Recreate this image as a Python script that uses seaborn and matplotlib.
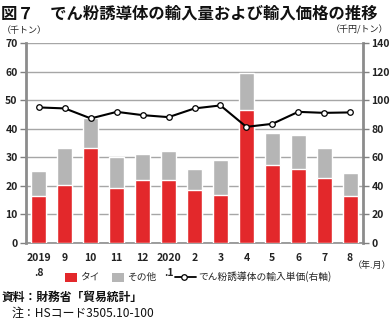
import numpy as np
import pandas as pd
import matplotlib
matplotlib.use("Agg")
import matplotlib.pyplot as plt
import seaborn as sns
from matplotlib.patches import Rectangle
from matplotlib.lines import Line2D

# Monthly imports of starch derivatives (thousand tonnes) and unit price (thousand yen / tonne)
months = ["2019.8", "2019.9", "2019.10", "2019.11", "2019.12", "2020.1", "2020.2",
          "2020.3", "2020.4", "2020.5", "2020.6", "2020.7", "2020.8"]
tick_labels = ["2019\n.8", "9", "10", "11", "12", "2020\n.1", "2", "3", "4", "5", "6", "7", "8"]
thai = [16.4, 20.3, 33.2, 19.4, 22.0, 22.0, 18.5, 16.8, 46.7, 27.4, 26.0, 22.8, 16.4]
total = [25.2, 33.1, 43.8, 30.0, 31.2, 32.2, 25.9, 29.0, 59.5, 38.6, 37.9, 33.3, 24.5]
unit_price = [94.9, 94.2, 87.2, 91.8, 89.5, 88.1, 94.2, 96.3, 81.3, 83.4, 91.8, 91.1, 91.4]

RED = "#e3282b"
GRAY = "#b5b5b5"
GRID = "#a6a6a6"
JP = ["Noto Sans CJK JP", "DejaVu Sans"]

sns.set_theme(style="white")
plt.rcParams["font.family"] = JP

df = pd.DataFrame({"month": months, "thai": thai, "total": total, "price": unit_price})

fig = plt.figure(figsize=(3.91, 3.22), dpi=100)
ax = fig.add_axes([26 / 391, 1 - 243 / 322, (363 - 26) / 391, 200 / 322])

sns.barplot(data=df, x="month", y="total", color=GRAY, width=0.58, ax=ax,
            saturation=1, zorder=2)
sns.barplot(data=df, x="month", y="thai", color=RED, width=0.58, ax=ax,
            saturation=1, zorder=3)

ax.set_ylim(0, 70)
ax.set_xlim(-0.5, len(months) - 0.5)
ax.set_yticks(range(0, 71, 10))
ax.yaxis.grid(True, color=GRID, linewidth=1.0, zorder=0)
ax.set_axisbelow(True)
ax.set_xlabel("")
ax.set_ylabel("")
ax.tick_params(axis="y", length=4, width=1, color="#808080", labelsize=7.5, pad=2)
for lab in ax.get_yticklabels():
    lab.set_fontweight("bold")
    lab.set_color("#222222")
ax.set_xticks(range(len(months)))
ax.set_xticklabels(tick_labels, fontsize=7.5, fontweight="bold", color="#222222",
                   linespacing=1.7, va="top")
ax.tick_params(axis="x", which="major", length=0, pad=7)
ax.set_xticks(np.arange(-0.5, len(months), 1.0), minor=True)
ax.tick_params(axis="x", which="minor", length=4, width=1, color="#808080", direction="out")

for side in ["left", "right", "bottom"]:
    ax.spines[side].set_visible(True)
    ax.spines[side].set_color("#8c8c8c")
ax.spines["left"].set_linewidth(2)
ax.spines["right"].set_linewidth(2)
ax.spines["bottom"].set_linewidth(1.2)
ax.spines["top"].set_visible(False)

ax2 = ax.twinx()
sns.lineplot(x=np.arange(len(months)), y=df["price"], ax=ax2, color="black",
             linewidth=1.5, marker="o", markersize=4, markerfacecolor="white",
             markeredgecolor="black", markeredgewidth=0.9, zorder=5)
ax2.set_ylim(0, 140)
ax2.set_yticks(range(0, 141, 20))
ax2.set_ylabel("")
ax2.tick_params(axis="y", length=4, width=1, color="#808080", labelsize=7.5, pad=2)
for lab in ax2.get_yticklabels():
    lab.set_fontweight("bold")
    lab.set_color("#222222")
for s in ax2.spines.values():
    s.set_visible(False)

# Title and annotations
fig.text(0.003, 0.985, "図７　でん粉誘導体の輸入量および輸入価格の推移", fontsize=11.8,
         fontweight="bold", ha="left", va="top", color="#111111")
fig.text(2 / 391, 1 - 30 / 322, "（千トン）", fontsize=6.5, ha="left", va="center", color="#222222")
fig.text(388 / 391, 1 - 30 / 322, "（千円/トン）", fontsize=6.5, ha="right", va="center", color="#222222")
fig.text(391 / 391, 1 - 265 / 322, "（年.月）", fontsize=6.5, ha="right", va="center", color="#222222")

# Legend row
ly = 1 - 277 / 322
lx = fig.transFigure
fig.patches.append(Rectangle((65 / 391, ly - 4.5 / 322), 12 / 391, 9 / 322, transform=lx,
                             facecolor=RED, edgecolor="none"))
fig.text(80 / 391, ly, "タイ", fontsize=7, ha="left", va="center")
fig.patches.append(Rectangle((112 / 391, ly - 4.5 / 322), 12 / 391, 9 / 322, transform=lx,
                             facecolor=GRAY, edgecolor="none"))
fig.text(127 / 391, ly, "その他", fontsize=7, ha="left", va="center")
fig.lines.append(Line2D([175 / 391, 196 / 391], [ly, ly], transform=lx,
                        color="black", linewidth=1.3))
fig.lines.append(Line2D([184 / 391], [ly], transform=lx, color="black",
                        marker="o", markersize=4, markerfacecolor="white",
                        markeredgecolor="black", markeredgewidth=0.9, linestyle="none"))
fig.text(198 / 391, ly, "でん粉誘導体の輸入単価(右軸)", fontsize=7, ha="left", va="center")

fig.text(2 / 391, 1 - 297 / 322, "資料：財務省「貿易統計」", fontsize=8.5, fontweight="bold",
         ha="left", va="center", color="#111111")
fig.text(12 / 391, 1 - 313 / 322, "注：HSコード3505.10-100", fontsize=8.6, ha="left", va="center",
         color="#111111")

fig.savefig("out.png", dpi=100)
